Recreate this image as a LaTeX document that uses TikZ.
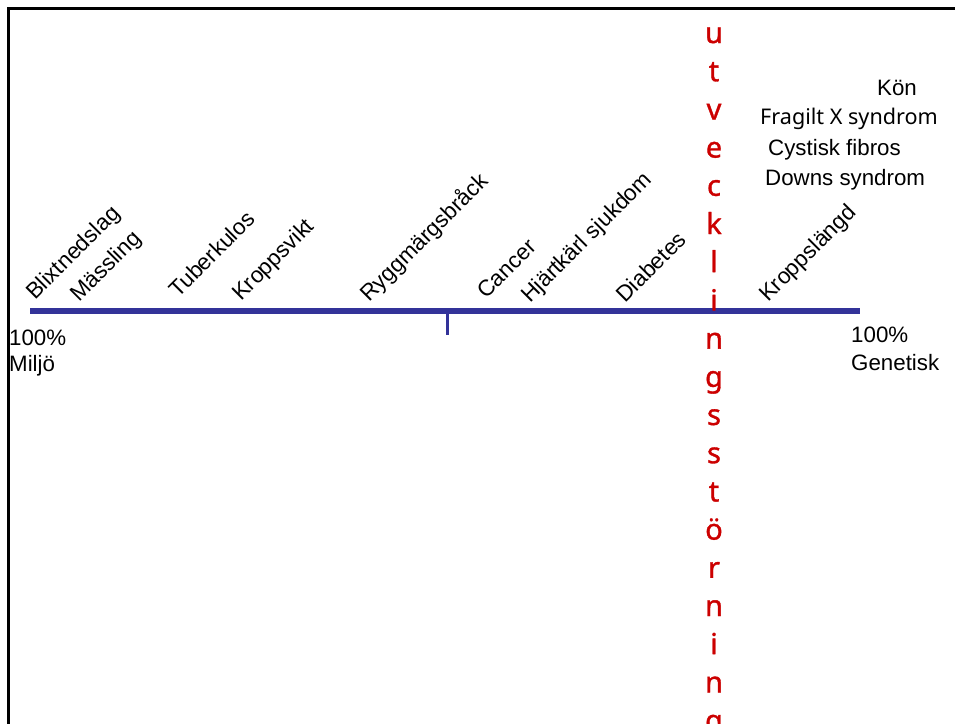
\documentclass[tikz,border=0pt]{standalone}
\usepackage{fontspec}
\setmainfont{Liberation Sans}
\newfontfamily\comicfont{Noto Sans}
\newfontfamily\redfont[FakeBold=1.2]{Noto Sans}
\definecolor{axisblue}{HTML}{333399}
\definecolor{devred}{HTML}{CC0000}
\begin{document}
\begin{tikzpicture}[x=1pt,y=-1pt,
  lbl/.style={inner sep=0pt,font=\fontsize{22.3}{24}\selectfont},
  diag/.style={lbl,rotate=45,anchor=base west,font=\fontsize{22.5}{24}\selectfont},
  flat/.style={lbl,anchor=base west},
  redletter/.style={inner sep=0pt,anchor=base,text=devred,font=\redfont\fontsize{29}{30}\selectfont}]
\useasboundingbox (0,0) rectangle (955,723);
\fill[white] (0,0) rectangle (955,723);
% frame
\coordinate (fbl) at (8.7,724);
\coordinate (ftl) at (8.7,8.7);
\coordinate (ftr) at (956,8.7);
\draw[line width=2.7pt] (fbl) -- (ftl) -- (ftr);
% axis
\coordinate (aL) at (30,311);
\coordinate (aR) at (860,311);
\draw[axisblue,line width=5.5pt] (aL) -- (aR);
\coordinate (t1) at (447.5,314);
\coordinate (t2) at (447.5,335);
\draw[axisblue,line width=2.5pt] (t1) -- (t2);
% diagonal labels
\node[diag] (blix) at (35,301) {Blixtnedslag};
\node[diag] (mass) at (79,303) {Mässling};
\node[diag] (tbc) at (178,299) {Tuberkulos};
\node[diag] (kv) at (241,302) {Kroppsvikt};
\node[diag] (rmb) at (369,303) {Ryggmärgsbråck};
\node[diag] (can) at (486,300) {Cancer};
\node[diag] (hks) at (530,304) {Hjärtkärl sjukdom};
\node[diag] (dia) at (625,304) {Diabetes};
\node[diag] (kl) at (768,303) {Kroppslängd};
% end labels
\node[flat] (p1) at (9,345) {100\%};
\node[flat] (mil) at (9,371) {Miljö};
\node[flat] (p2) at (851,342) {100\%};
\node[flat] (gen) at (851,370) {Genetisk};
% genetic list
\node[flat] (kon) at (877,95) {Kön};
\node[flat,font=\comicfont\fontsize{21.6}{24}\selectfont] (fxs) at (760,124) {Fragilt X syndrom};
\node[flat] (cf) at (768,155) {Cystisk fibros};
\node[flat] (ds) at (765,185) {Downs syndrom};
% vertical red word
\foreach \ch [count=\i from 0] in {u,t,v,e,c,k,l,i,n,g,s,s,t,ö,r,n,i,n,g}
  \node[redletter] (r\i) at (714,{43+38.2*\i}) {\ch};
\end{tikzpicture}
\end{document}
